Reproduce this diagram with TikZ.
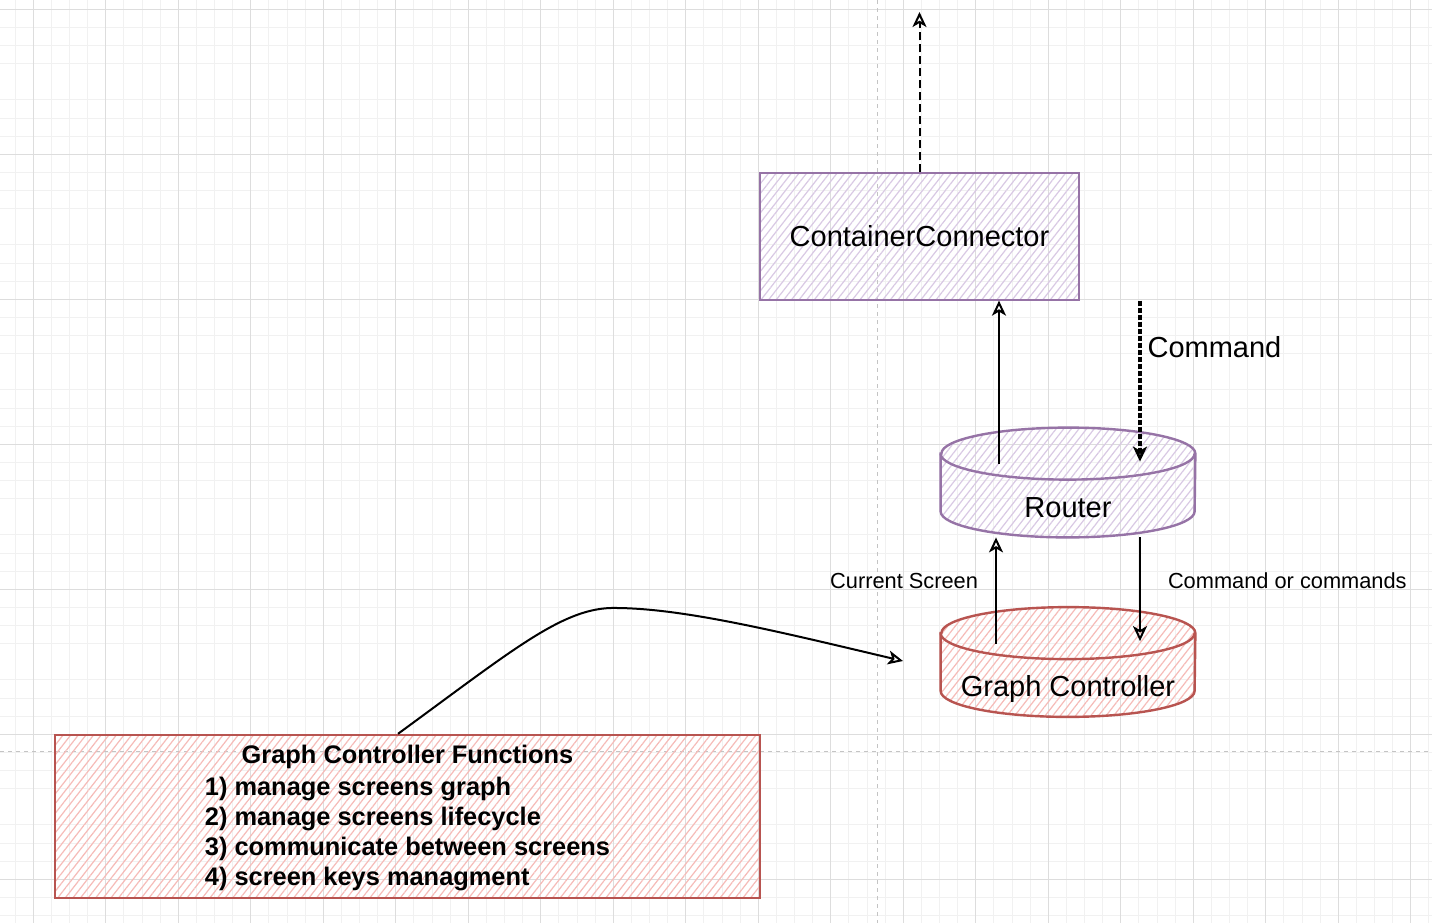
\documentclass[tikz,border=0pt]{standalone}
\usepackage{fontspec}
\setmainfont{Liberation Sans}
\usetikzlibrary{arrows.meta,patterns.meta}
\pgfdeclarelayer{bg}
\pgfsetlayers{bg,main}

\definecolor{ccline}{HTML}{9673A6}
\definecolor{cchatch}{HTML}{D9C9E4}
\definecolor{gcline}{HTML}{B85450}
\definecolor{gchatch}{HTML}{F6BBB8}
\definecolor{gridminor}{HTML}{F1F1F1}
\definecolor{gridmajor}{HTML}{DDDDDD}
\definecolor{pageline}{HTML}{C4C4C4}

\tikzset{
  hatch/.style={pattern={Lines[angle=52,distance=3pt,line width=0.6pt]},pattern color=#1},
  box/.style={draw=#1, line width=1.2pt, font=\fontsize{14.5}{17}\selectfont},
  drum/.style={inner sep=0pt, minimum width=127pt, text height=44.5pt, text depth=10pt,
    font=\fontsize{14.5}{17}\selectfont},
  arr/.style={-{Stealth[open,length=7.5pt,width=7pt,inset=2pt]}, line width=1pt},
  lbl/.style={inner sep=0pt, font=\fontsize{10.9}{13}\selectfont},
}

% cylinder drawn from the corners of a node
\newcommand\drawdrum[3]{%
  \begin{pgfonlayer}{bg}
    \draw[hatch=#3, draw=#2, line width=1.2pt]
      ([yshift=-13pt]#1.north west) -- ([yshift=13pt]#1.south west)
      arc[start angle=180, end angle=360, x radius=63.5pt, y radius=13pt]
      -- ([yshift=-13pt]#1.north east)
      arc[start angle=0, end angle=180, x radius=63.5pt, y radius=13pt] -- cycle;
    \draw[#2, line width=1.2pt] ([yshift=-13pt]#1.north west)
      arc[start angle=180, end angle=360, x radius=63.5pt, y radius=13pt];
  \end{pgfonlayer}}

\begin{document}
\begin{tikzpicture}[x=0.5pt, y=-0.5pt]
  \useasboundingbox (0,0) rectangle (1432,923);
  \begin{pgfonlayer}{bg}
    \fill[white] (0,0) rectangle (1432,923);
    \foreach \i in {0,...,78}
      \draw[gridminor, line width=0.5pt] ({15.2+18.125*\i},0) -- ++(0,923);
    \foreach \j in {0,...,50}{
      \pgfmathtruncatemacro\r{mod(\j,8)}
      \ifnum\r=4 \else
        \draw[gridminor, line width=0.5pt] (0,{9.3+18.125*\j}) -- ++(1432,0);
      \fi}
    \foreach \k in {0,...,19}
      \draw[gridmajor, line width=0.5pt] ({33.3+72.5*\k},0) -- ++(0,923);
    \foreach \k in {0,...,6}
      \draw[gridmajor, line width=0.5pt] (0,{9.3+145*\k}) -- ++(1432,0);
    \draw[pageline, line width=0.5pt, dash pattern=on 2pt off 2pt] (877,0) -- (877,923);
    \draw[pageline, line width=0.5pt, dash pattern=on 2pt off 2pt] (0,751) -- (1432,751);
  \end{pgfonlayer}

  \node[box=ccline, hatch=cchatch, minimum width=159.5pt, minimum height=63.5pt]
    (cc) at (919.5,236.5) {ContainerConnector};
  \node[drum] (router) at (1068,482.5) {Router};
  \node[drum] (gc) at (1068,662) {Graph Controller};
  \drawdrum{router}{ccline}{cchatch}
  \drawdrum{gc}{gcline}{gchatch}
  \node[box=gcline, hatch=gchatch, minimum width=352.5pt, minimum height=81.5pt,
    inner ysep=0pt, align=center, font=\bfseries\fontsize{12.7}{15}\selectfont]
    (fn) at (407.5,816.5) {\rule{0pt}{12.8pt}Graph Controller Functions\\[1pt]
    \begin{tabular}[t]{@{}l@{}}
      1) manage screens graph\\
      2) manage screens lifecycle\\
      3) communicate between screens\\
      4) screen keys managment
    \end{tabular}};

  \coordinate (out) at (919.5,12);
  \coordinate (tip) at (903,661);
  \path ([xshift=-34.5pt,yshift=-18pt]router.north) coordinate (r1)
        ([xshift=36pt,yshift=-17pt]router.north) coordinate (r2)
        ([xshift=-36pt,yshift=-18.5pt]gc.north) coordinate (g1)
        ([xshift=36pt,yshift=-17pt]gc.north) coordinate (g2);

  \draw[arr, dash pattern=on 4pt off 2pt] (cc.north) -- (out);
  \draw[arr] (r1) -- (r1 |- cc.south);
  \draw[arr, line width=1.6pt, dash pattern=on 2.5pt off 1pt] (r2 |- cc.south) -- (r2)
    node[pos=0.29, right=3pt, lbl, font=\fontsize{14.5}{17}\selectfont] {Command};
  \draw[arr] (g1) -- (g1 |- router.south)
    node[pos=0.59, left=8.5pt, lbl] {Current Screen};
  \draw[arr] (g2 |- router.south) -- (g2)
    node[pos=0.42, right=13.5pt, lbl] {Command or commands};
  \draw[arr] ([xshift=-4.75pt]fn.north) .. controls (510,652) and (560,610) .. (610,608)
    .. controls (680,607) and (780,632) .. (tip);
\end{tikzpicture}
\end{document}
